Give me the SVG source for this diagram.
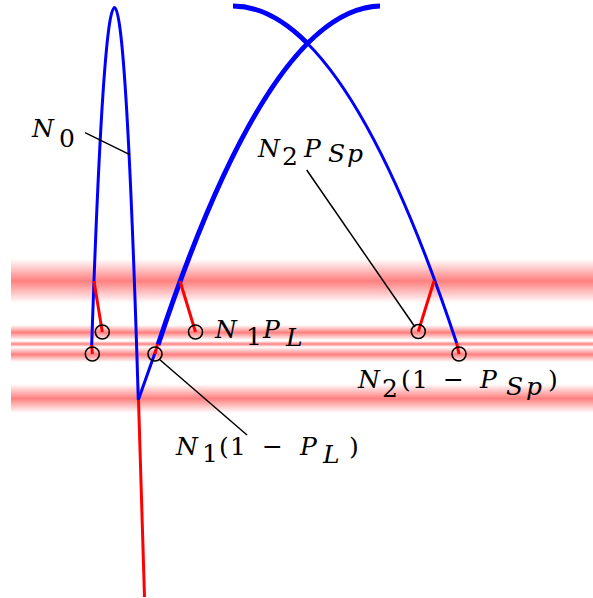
<svg xmlns="http://www.w3.org/2000/svg" width="593" height="598" viewBox="0 0 593 598">
<defs>
<linearGradient id="band" x1="0" y1="0" x2="0" y2="1">
<stop offset="0" stop-color="#ff0000" stop-opacity="0"/>
<stop offset="0.5" stop-color="#ff0000" stop-opacity="0.5"/>
<stop offset="1" stop-color="#ff0000" stop-opacity="0"/>
</linearGradient>
</defs>
<style>
.thin{fill:none;stroke:#0000ff;stroke-width:3}
.thick{fill:none;stroke:#0000ff;stroke-width:5}
.red{fill:none;stroke:#ff0000;stroke-width:3}
.ring{fill:none;stroke:#000000;stroke-width:1.6}
.lead{fill:none;stroke:#000000;stroke-width:1.5}
.band{fill:url(#band)}
.lbl{font-family:"DejaVu Serif",serif;font-size:25px;fill:#000000}
.i{font-style:italic}
</style>
<rect width="593" height="598" fill="#ffffff"/>
<g id="bands">
<rect class="band" x="11" y="259" width="582" height="44"/>
<rect class="band" x="11" y="325" width="582" height="15"/>
<rect class="band" x="11" y="341" width="582" height="6"/>
<rect class="band" x="11" y="347" width="582" height="15"/>
<rect class="band" x="11" y="384" width="582" height="29"/>
</g>
<g id="curves">
<path class="thin" d="M91.7,345 Q103.1,7.5 114.5,7.5 Q126.4,7.5 138.3,400"/>
<path class="thin" d="M138.3,400 L156,350"/>
<path class="thick" d="M158,345 Q269,9 380,6"/>
<path class="thick" d="M233,6 Q270.1,6 307.3,43.2"/>
<path class="thin" d="M307.3,43.2 Q382,118 456.7,343.3"/>
</g>
<g id="red-paths">
<path class="red" d="M94,281 L102.3,332"/>
<path class="red" d="M91.7,345 L92.3,354"/>
<path class="red" d="M180,281 L195.5,332"/>
<path class="red" d="M157.5,344 L155,354"/>
<path class="red" d="M434,281 L418.3,331.5"/>
<path class="red" d="M456.7,343.3 L459,354"/>
<path class="red" d="M138.5,400 L144.5,597"/>
</g>
<g id="points">
<circle class="ring" cx="102.3" cy="332" r="7"/>
<circle class="ring" cx="92.3" cy="354" r="7"/>
<circle class="ring" cx="155" cy="354" r="7"/>
<circle class="ring" cx="195.5" cy="332" r="7"/>
<circle class="ring" cx="418.3" cy="331.5" r="7"/>
<circle class="ring" cx="459" cy="354" r="7"/>
</g>
<g id="connectors">
<line class="lead" x1="85" y1="132.7" x2="129.3" y2="154.3"/>
<line class="lead" x1="306.7" y1="170" x2="415" y2="327"/>
<line class="lead" x1="159" y1="359" x2="247" y2="435"/>
</g>
<g id="label-N0">
<text class="lbl"><tspan class="i" x="32" y="137">N</tspan><tspan x="59" y="146.5">0</tspan></text>
</g>
<g id="label-N2PSp">
<text class="lbl"><tspan class="i" x="258" y="157">N</tspan><tspan x="282" y="164.5">2</tspan><tspan class="i" x="304" y="157">P</tspan><tspan class="i" x="328" y="162">S</tspan><tspan class="i" x="347" y="162">p</tspan></text>
</g>
<g id="label-N1PL">
<text class="lbl"><tspan class="i" x="215" y="338">N</tspan><tspan x="246" y="345">1</tspan><tspan class="i" x="263" y="338">P</tspan><tspan class="i" x="286" y="346">L</tspan></text>
</g>
<g id="label-N1-1-PL">
<text class="lbl"><tspan class="i" x="176" y="455">N</tspan><tspan x="202" y="462">1</tspan><tspan x="219" y="455">(</tspan><tspan x="230" y="455">1</tspan><tspan x="262" y="455">−</tspan><tspan class="i" x="300" y="455">P</tspan><tspan class="i" x="323" y="463">L</tspan><tspan x="349" y="455">)</tspan></text>
</g>
<g id="label-N2-1-PSp">
<text class="lbl"><tspan class="i" x="358" y="388">N</tspan><tspan x="382" y="396.5">2</tspan><tspan x="401" y="388">(</tspan><tspan x="412" y="388">1</tspan><tspan x="443" y="388">−</tspan><tspan class="i" x="480" y="388">P</tspan><tspan class="i" x="506" y="395">S</tspan><tspan class="i" x="526" y="395">p</tspan><tspan x="548" y="388">)</tspan></text>
</g>
</svg>
